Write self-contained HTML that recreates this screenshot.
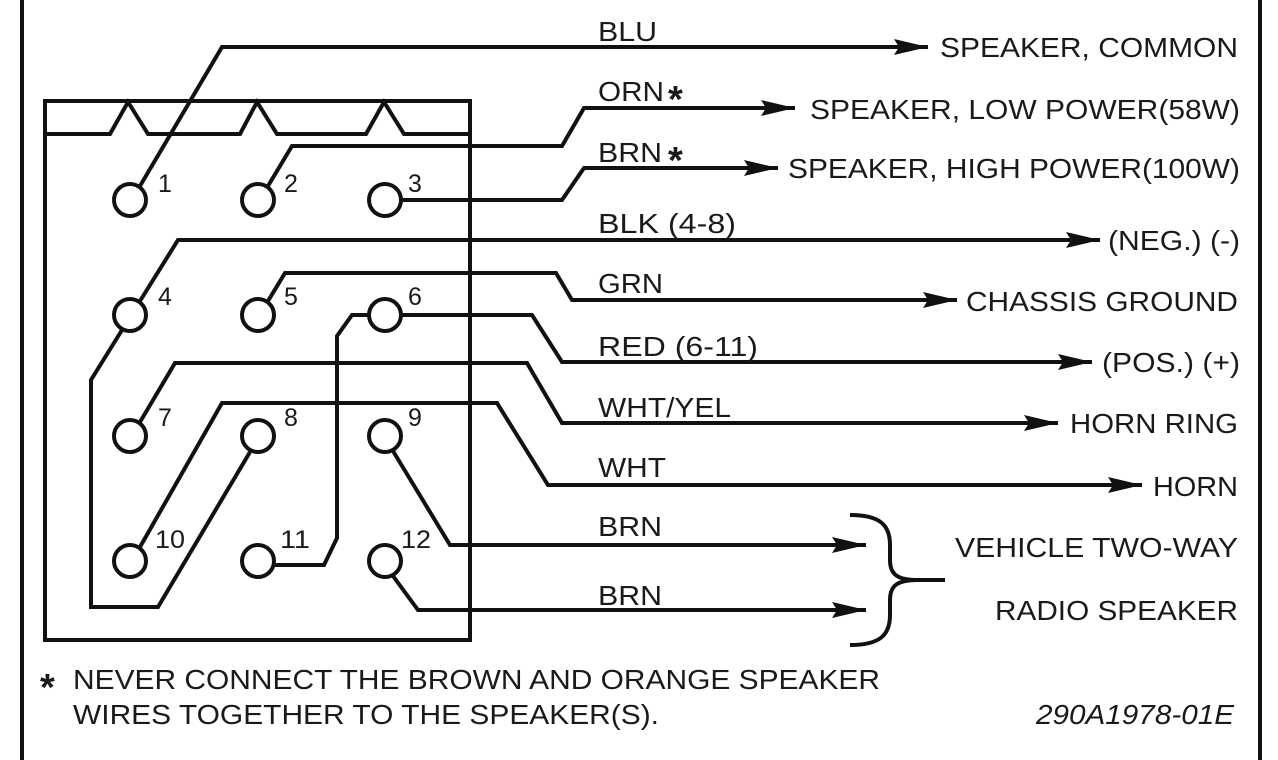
<!DOCTYPE html>
<html><head><meta charset="utf-8"><style>
html,body{margin:0;padding:0;background:#fff;}
svg{display:block;}
text{font-family:"Liberation Sans",Arial,sans-serif;fill:#1a1a1a;}
</style></head><body>
<svg width="1278" height="760" viewBox="0 0 1278 760" xmlns="http://www.w3.org/2000/svg">
<defs>
<marker id="a" viewBox="0 0 34 16" refX="34" refY="8" markerWidth="34" markerHeight="16" markerUnits="userSpaceOnUse" orient="auto">
<path d="M0,0 L34,8 L0,16 L5,8 Z" fill="#111"/>
</marker>
</defs>
<g stroke="#111" stroke-width="4" fill="none" stroke-linejoin="miter">
<line x1="22" y1="0" x2="22" y2="760"/>
<line x1="1260" y1="0" x2="1260" y2="760"/>
<rect x="45" y="101" width="425" height="539"/>
<polyline points="45,134 110,134 128,102 148,134 240,134 257,102 277,134 366,134 384,102 404,134 470,134"/>
<circle cx="130" cy="200" r="16"/><circle cx="258" cy="200" r="16"/><circle cx="385" cy="200" r="16"/>
<circle cx="130" cy="315" r="16"/><circle cx="258" cy="315" r="16"/><circle cx="385" cy="315" r="16"/>
<circle cx="130" cy="436" r="16"/><circle cx="258" cy="436" r="16"/><circle cx="385" cy="436" r="16"/>
<circle cx="130" cy="561" r="16"/><circle cx="258" cy="561" r="16"/><circle cx="385" cy="561" r="16"/>
<polyline points="140,186 222,47 928,47" marker-end="url(#a)"/>
<polyline points="268,186 292,146 562,146 584,108 795,108" marker-end="url(#a)"/>
<polyline points="401,200 562,200 584,168 778,168" marker-end="url(#a)"/>
<polyline points="140,301 178,240 1100,240" marker-end="url(#a)"/>
<polyline points="268,301 285,273 556,273 572,300 957,300" marker-end="url(#a)"/>
<polyline points="401,315 532,315 562,362 1092,362" marker-end="url(#a)"/>
<polyline points="140,422 175,363 527,363 562,423 1058,423" marker-end="url(#a)"/>
<polyline points="140,547 222,403 497,403 548,485 1142,485" marker-end="url(#a)"/>
<polyline points="122,330 91,380 91,607 158,607 250,452"/>
<polyline points="370,315 352,315 337,336 337,538 324,565 274,565"/>
<polyline points="393,451 450,545 866,545" marker-end="url(#a)"/>
<polyline points="393,576 418,610 866,610" marker-end="url(#a)"/>
<path d="M850,515 C880,515 890,525 890,545 L890,560 C890,575 898,580 918,580 C898,580 890,585 890,600 L890,615 C890,635 880,645 850,645"/>
<line x1="918" y1="580" x2="945" y2="580"/>
</g>
<g font-size="25">
<text x="158" y="192">1</text><text x="284" y="192">2</text><text x="408" y="192">3</text>
<text x="158" y="305">4</text><text x="284" y="305">5</text><text x="408" y="305">6</text>
<text x="158" y="426">7</text><text x="284" y="426">8</text><text x="408" y="426">9</text>
<text x="155" y="548" textLength="30" lengthAdjust="spacingAndGlyphs">10</text><text x="280" y="548" textLength="30" lengthAdjust="spacingAndGlyphs">11</text><text x="401" y="548" textLength="30" lengthAdjust="spacingAndGlyphs">12</text>
</g>
<g font-size="28">
<text x="598" y="41" textLength="59" lengthAdjust="spacingAndGlyphs">BLU</text>
<text x="598" y="101" textLength="66" lengthAdjust="spacingAndGlyphs">ORN</text>
<text x="668" y="112" font-size="38" font-weight="bold">*</text>
<text x="598" y="162" textLength="64" lengthAdjust="spacingAndGlyphs">BRN</text>
<text x="668" y="173" font-size="38" font-weight="bold">*</text>
<text x="598" y="233" textLength="138" lengthAdjust="spacingAndGlyphs">BLK  (4-8)</text>
<text x="598" y="293" textLength="65" lengthAdjust="spacingAndGlyphs">GRN</text>
<text x="598" y="356" textLength="160" lengthAdjust="spacingAndGlyphs">RED  (6-11)</text>
<text x="598" y="417" textLength="133" lengthAdjust="spacingAndGlyphs">WHT/YEL</text>
<text x="598" y="477" textLength="68" lengthAdjust="spacingAndGlyphs">WHT</text>
<text x="598" y="536" textLength="64" lengthAdjust="spacingAndGlyphs">BRN</text>
<text x="598" y="605" textLength="64" lengthAdjust="spacingAndGlyphs">BRN</text>

<text x="940" y="57" textLength="298" lengthAdjust="spacingAndGlyphs">SPEAKER, COMMON</text>
<text x="810" y="119" textLength="430" lengthAdjust="spacingAndGlyphs">SPEAKER, LOW POWER(58W)</text>
<text x="788" y="178" textLength="452" lengthAdjust="spacingAndGlyphs">SPEAKER, HIGH POWER(100W)</text>
<text x="1108" y="250" textLength="132" lengthAdjust="spacingAndGlyphs">(NEG.) (-)</text>
<text x="966" y="311" textLength="272" lengthAdjust="spacingAndGlyphs">CHASSIS GROUND</text>
<text x="1102" y="372" textLength="138" lengthAdjust="spacingAndGlyphs">(POS.) (+)</text>
<text x="1070" y="433" textLength="168" lengthAdjust="spacingAndGlyphs">HORN RING</text>
<text x="1153" y="496" textLength="85" lengthAdjust="spacingAndGlyphs">HORN</text>
<text x="955" y="557" textLength="283" lengthAdjust="spacingAndGlyphs">VEHICLE TWO-WAY</text>
<text x="995" y="620" textLength="243" lengthAdjust="spacingAndGlyphs">RADIO SPEAKER</text>

<text x="40" y="700" font-size="38" font-weight="bold">*</text>
<text x="73" y="689" textLength="807" lengthAdjust="spacingAndGlyphs">NEVER CONNECT THE BROWN AND ORANGE SPEAKER</text>
<text x="73" y="724" textLength="586" lengthAdjust="spacingAndGlyphs">WIRES TOGETHER TO THE SPEAKER(S).</text>
<text x="1036" y="724" font-style="italic" textLength="198" lengthAdjust="spacingAndGlyphs">290A1978-01E</text>
</g>
</svg>
</body></html>
